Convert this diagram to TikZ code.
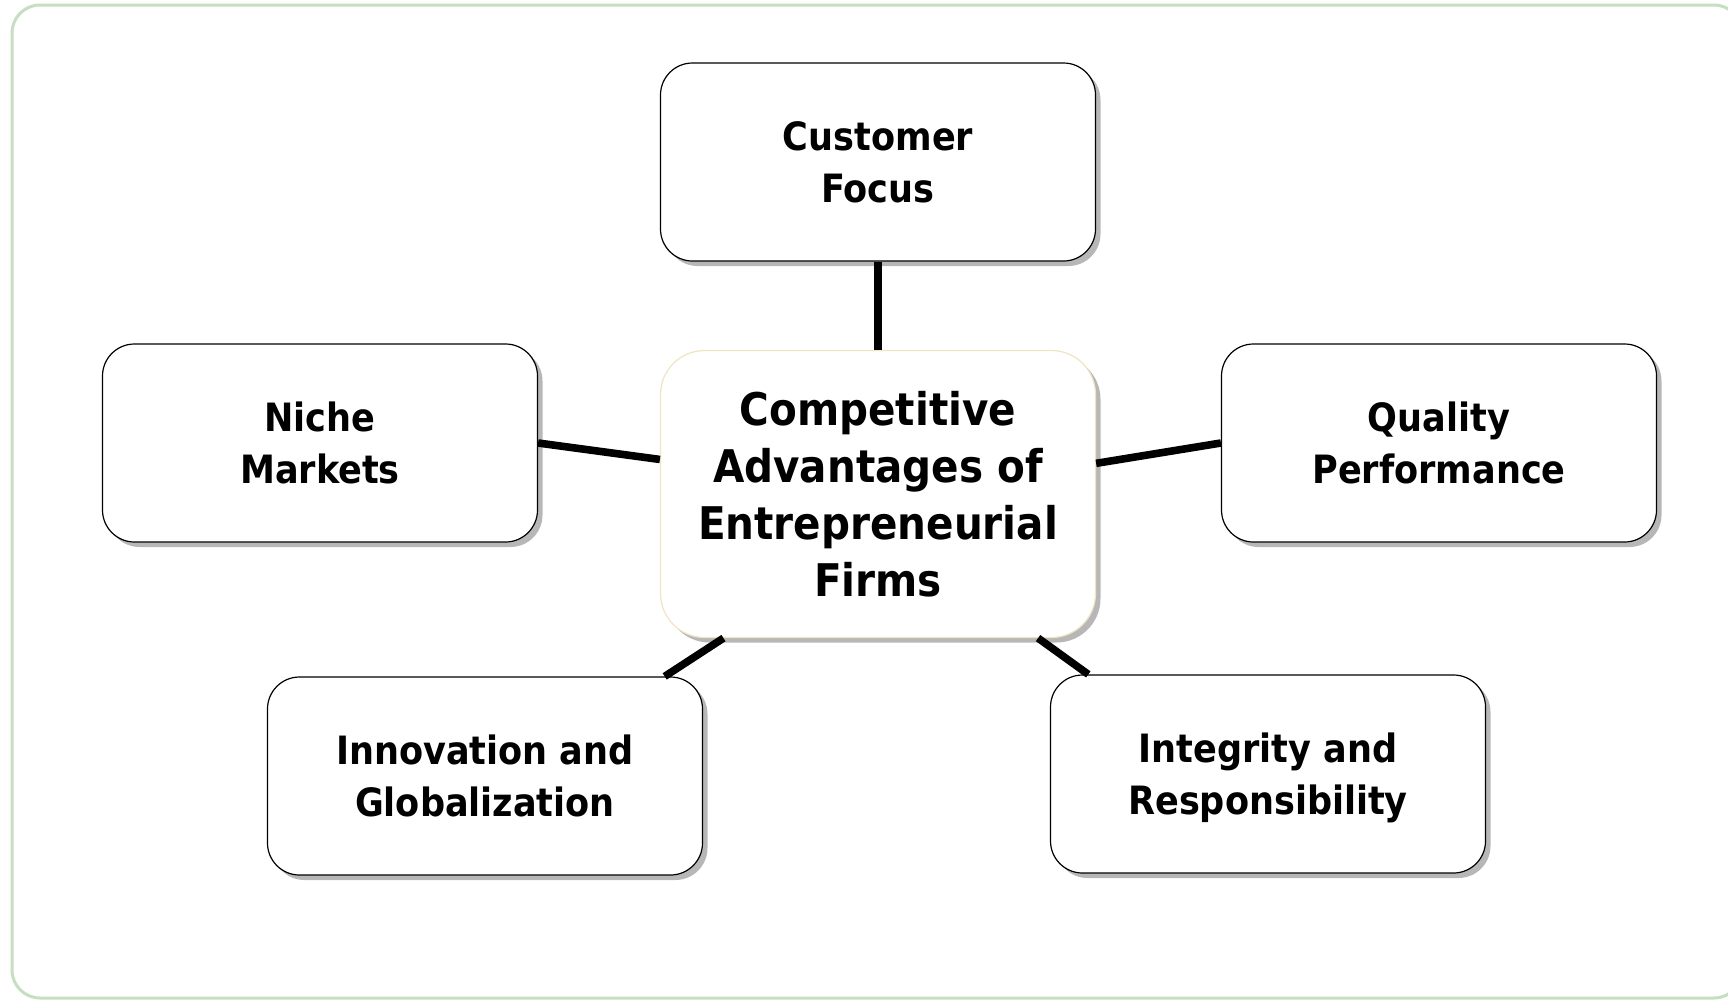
\documentclass[tikz,border=0pt]{standalone}
\usepackage{fontspec}
\setmainfont{DejaVu Sans Condensed}
\usetikzlibrary{shadows}
\definecolor{framegreen}{HTML}{C6DEC1}
\definecolor{hubline}{HTML}{F0E4C2}
\tikzset{
  item/.style={draw=black, line width=0.6pt, fill=white, rounded corners=16pt,
    minimum width=217.5pt, minimum height=99pt, align=center,
    font=\bfseries\fontsize{19.5}{26}\selectfont,
    drop shadow={shadow xshift=2.5pt, shadow yshift=-2.5pt, opacity=0.4, fill=black!70}},
  hub/.style={item, draw=hubline, minimum height=143.5pt, rounded corners=22pt,
    font=\bfseries\fontsize{22.5}{28.5}\selectfont},
  link/.style={line width=3.8pt, black}
}
\begin{document}
\begin{tikzpicture}[x=0.5pt, y=-0.5pt]
\useasboundingbox (0,0) rectangle (1728,1001);
\begin{scope}
\clip (0,0) rectangle (1728,1001);
\draw[framegreen, line width=1.5pt, rounded corners=14pt] (12,5) rectangle (1742,998);
\end{scope}
\node[hub] (hub) at (878,494) {Competitive\\Advantages of\\Entrepreneurial\\Firms};
\node[item] (cust) at (878,162) {Customer\\Focus};
\node[item] (niche) at (320,443) {Niche\\Markets};
\node[item] (qual) at (1439,443) {Quality\\Performance};
\node[item] (inno) at (485,776) {Innovation and\\Globalization};
\node[item] (integ) at (1268,774) {Integrity and\\\raisebox{0pt}[\height][0pt]{Responsibility}};
\draw[link] (hub.north) -- (cust.south);
\draw[link] (hub.171) -- (niche.east);
\draw[link] (hub.8) -- (qual.west);
\draw[link] (hub.-137) -- (inno.29);
\draw[link] (hub.-42) -- (integ.151);
\end{tikzpicture}
\end{document}
